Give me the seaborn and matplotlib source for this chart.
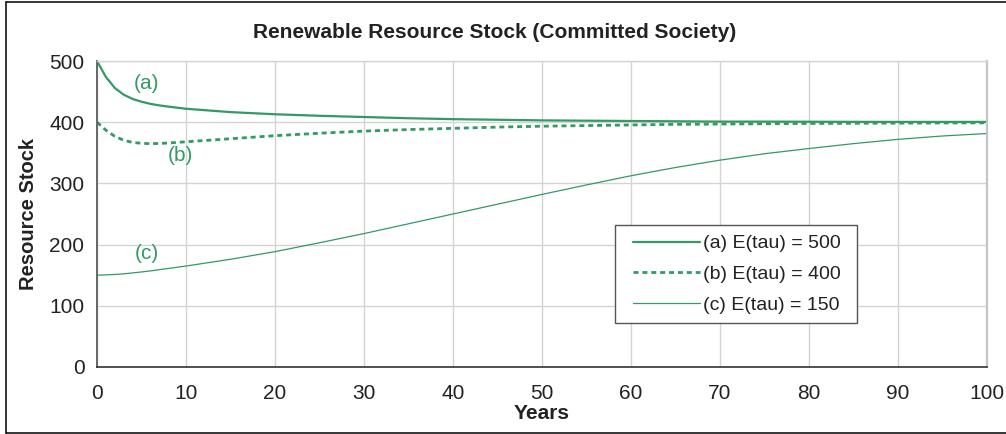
import matplotlib
matplotlib.use("Agg")
import matplotlib.pyplot as plt
from matplotlib.lines import Line2D
from matplotlib.patches import Rectangle
import pandas as pd
import seaborn as sns

# Simulation output, years 0-100
years = [0, 1, 2, 3, 4, 5, 6, 7, 8, 10, 15, 20, 25, 30, 35, 40, 45, 50,
         55, 60, 65, 70, 75, 80, 85, 90, 95, 100]
stock_a = [500, 474, 456, 445, 438, 433.5, 430, 427.5, 425.5, 422, 416.5,
           413, 410.5, 408.5, 406.5, 405, 404, 403, 402.5, 402, 401.5, 401,
           401, 400.8, 400.6, 400.5, 400.5, 400.5]
stock_b = [400, 387, 377, 370.5, 367, 365.5, 365, 365.3, 366, 368, 373, 378,
           382, 385.5, 388, 390, 392, 393.5, 394.5, 395.5, 396.5, 397, 397.5,
           398, 398.3, 398.5, 398.8, 399]
stock_c = [150, 150.5, 151.2, 152.3, 153.7, 155.3, 157, 159, 161, 165, 176,
           188.5, 203, 218, 234, 250, 266, 282, 297.5, 312.5, 326, 338, 348.5,
           357, 365, 372, 377.5, 381.5]
series_labels = ["(a) E(tau) = 500", "(b) E(tau) = 400", "(c) E(tau) = 150"]
curve_tags = ["(a)", "(b)", "(c)"]
tag_positions = [(5.6, 464), (9.4, 345), (5.6, 185)]
x_ticks = list(range(0, 101, 10))
y_ticks = list(range(0, 501, 100))

GREEN = "#339966"

sns.set_style("white")
plt.rcParams["font.family"] = ["Liberation Sans", "DejaVu Sans"]

fig = plt.figure(figsize=(10.06, 4.34), dpi=100)
ax = fig.add_axes([0.0964, 0.1544, 0.8847, 0.7050])

df = pd.DataFrame({"Years": years, "a": stock_a, "b": stock_b, "c": stock_c})

sns.lineplot(data=df, x="Years", y="a", ax=ax, color=GREEN, lw=1.6,
             label=series_labels[0])
sns.lineplot(data=df, x="Years", y="b", ax=ax, color=GREEN, lw=2.0,
             label=series_labels[1], dashes=False)
ax.lines[-1].set_dashes([1.8, 1.4])
sns.lineplot(data=df, x="Years", y="c", ax=ax, color=GREEN, lw=0.9,
             label=series_labels[2])

for tag, (tx, ty) in zip(curve_tags, tag_positions):
    ax.text(tx, ty, tag, color=GREEN, fontsize=15, ha="center", va="center")

ax.set_xlim(0, 100)
ax.set_ylim(0, 500)
ax.set_xticks(x_ticks)
ax.set_yticks(y_ticks)
ax.grid(True, color="#D4D4D4", lw=1.0)
ax.set_axisbelow(True)

ax.tick_params(axis="both", direction="out", length=5, width=1.2,
               colors="#555555", labelcolor="#222222", labelsize=15)
ax.tick_params(axis="y", pad=4)
ax.tick_params(axis="x", pad=7)

ax.spines["left"].set_color("#666666")
ax.spines["left"].set_linewidth(1.4)
ax.spines["bottom"].set_color("#333333")
ax.spines["bottom"].set_linewidth(1.2)
ax.spines["right"].set_color("#C4C4C4")
ax.spines["right"].set_linewidth(1.6)
ax.spines["top"].set_color("#D4D4D4")
ax.spines["top"].set_linewidth(1.0)

ax.set_xlabel("")
ax.set_ylabel("")
fig.text(0.538, 0.048, "Years", ha="center", va="center",
         fontsize=15, fontweight="bold", color="#222222")
fig.text(0.028, 0.507, "Resource Stock", ha="center", va="center",
         rotation=90, fontsize=14.5, fontweight="bold", color="#222222")
fig.text(0.492, 0.924, "Renewable Resource Stock (Committed Society)",
         ha="center", va="center", fontsize=15, fontweight="bold",
         color="#222222")

# Legend box drawn as its own patch so the padding can differ per side
ax.add_patch(Rectangle((0.582, 0.1454), 0.2719, 0.3187,
                       transform=ax.transAxes, facecolor="white",
                       edgecolor="#555555", lw=1.0, zorder=4.5,
                       clip_on=False))
leg = ax.legend(loc="upper left", bbox_to_anchor=(0.6022, 0.432),
                frameon=False, fontsize=14, handlelength=3.45,
                handletextpad=0.15, labelspacing=0.68, borderpad=0,
                borderaxespad=0)
leg.set_zorder(5)
for txt in leg.get_texts():
    txt.set_color("#222222")

# Outer border around the chart area
frame_kw = dict(color="black", lw=1.1, transform=fig.transFigure)
fig.add_artist(Line2D([0.0055, 0.0055], [0.003, 0.9954], **frame_kw))
fig.add_artist(Line2D([0.0055, 1.0], [0.9954, 0.9954], **frame_kw))
fig.add_artist(Line2D([0.0055, 1.0], [0.003, 0.003], **frame_kw))

fig.savefig("out.png", dpi=100, facecolor="white")
